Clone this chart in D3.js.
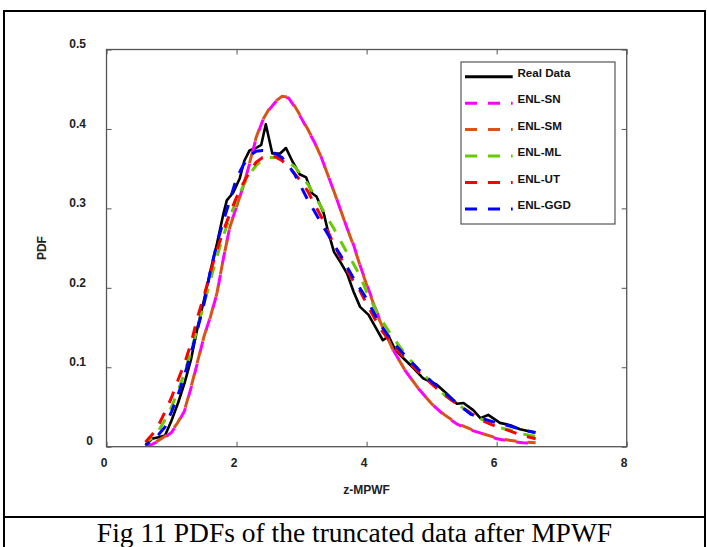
<!DOCTYPE html>
<html>
<head>
<meta charset="utf-8">
<script src="https://cdn.jsdelivr.net/npm/d3@7"></script>
<style>
  html, body { margin: 0; padding: 0; background: #fff; }
  svg { display: block; }
</style>
</head>
<body>
<svg id="chart" width="707" height="547"></svg>
<script>
// ---------- data ----------
const seriesNames = ["Real Data", "ENL-SN", "ENL-SM", "ENL-ML", "ENL-UT", "ENL-GGD"];
const xTicks = [0, 2, 4, 6, 8];
const yTicks = [0, 0.1, 0.2, 0.3, 0.4, 0.5];

const xReal = [0.6,0.7,0.8,0.9,1.0,1.1,1.2,1.3,1.4,1.5,1.6,1.7,1.8,1.85,1.95,2.05,2.12,2.2,2.3,2.38,2.45,2.55,2.67,2.76,2.86,2.97,3.07,3.16,3.23,3.34,3.41,3.5,3.6,3.7,3.8,3.9,4.03,4.16,4.25,4.34,4.44,4.57,4.72,4.87,5.08,5.23,5.39,5.49,5.64,5.75,5.87,6.05,6.21,6.36,6.58];
const yReal = [0.002,0.010,0.012,0.014,0.033,0.055,0.080,0.110,0.150,0.185,0.222,0.256,0.294,0.310,0.320,0.338,0.360,0.373,0.376,0.380,0.406,0.369,0.369,0.376,0.359,0.343,0.339,0.319,0.315,0.294,0.270,0.245,0.232,0.218,0.195,0.176,0.166,0.147,0.134,0.139,0.122,0.111,0.099,0.086,0.078,0.067,0.054,0.055,0.046,0.036,0.040,0.030,0.027,0.022,0.018];

const xFit = [0.6,0.7,0.8,0.9,1.0,1.1,1.2,1.3,1.4,1.5,1.6,1.7,1.8,1.9,2.0,2.1,2.2,2.3,2.4,2.5,2.6,2.7,2.8,2.9,3.0,3.1,3.2,3.3,3.4,3.5,3.6,3.7,3.8,3.9,4.0,4.2,4.4,4.6,4.8,5.0,5.2,5.4,5.6,5.8,6.0,6.2,6.4,6.6];
const ySN  = [0.000,0.003,0.007,0.012,0.018,0.030,0.045,0.074,0.106,0.139,0.164,0.193,0.238,0.278,0.302,0.327,0.356,0.388,0.410,0.424,0.434,0.440,0.439,0.427,0.413,0.398,0.383,0.365,0.343,0.321,0.298,0.275,0.254,0.228,0.205,0.160,0.123,0.095,0.073,0.054,0.039,0.028,0.021,0.016,0.010,0.007,0.005,0.004];
const ySM  = [0.000,0.003,0.008,0.013,0.019,0.031,0.046,0.075,0.107,0.139,0.164,0.194,0.238,0.277,0.302,0.327,0.357,0.389,0.411,0.425,0.435,0.441,0.440,0.428,0.414,0.399,0.383,0.365,0.343,0.321,0.298,0.275,0.253,0.228,0.204,0.159,0.123,0.095,0.073,0.054,0.040,0.029,0.022,0.016,0.011,0.008,0.006,0.005];
const yML  = [0.005,0.011,0.020,0.034,0.050,0.070,0.093,0.120,0.150,0.180,0.210,0.240,0.266,0.290,0.310,0.328,0.343,0.354,0.361,0.364,0.364,0.362,0.358,0.352,0.342,0.330,0.316,0.302,0.288,0.274,0.259,0.244,0.230,0.215,0.195,0.163,0.138,0.116,0.097,0.081,0.065,0.053,0.043,0.033,0.025,0.021,0.016,0.013];
const yUT  = [0.006,0.015,0.027,0.044,0.062,0.084,0.105,0.130,0.163,0.190,0.220,0.248,0.272,0.294,0.314,0.331,0.346,0.358,0.364,0.366,0.365,0.360,0.353,0.343,0.333,0.321,0.305,0.290,0.272,0.254,0.238,0.222,0.208,0.196,0.180,0.150,0.128,0.110,0.094,0.079,0.065,0.053,0.042,0.032,0.025,0.020,0.014,0.010];
const yGGD = [0.002,0.008,0.015,0.025,0.044,0.065,0.090,0.118,0.148,0.180,0.222,0.256,0.285,0.311,0.338,0.354,0.366,0.372,0.373,0.372,0.369,0.364,0.354,0.342,0.326,0.310,0.296,0.282,0.268,0.254,0.241,0.226,0.212,0.199,0.186,0.155,0.132,0.114,0.097,0.082,0.068,0.054,0.041,0.035,0.030,0.026,0.021,0.018];

// ---------- styles ----------
const colors = ["#000000", "#ff00ff", "#d95319", "#66cc00", "#ff0000", "#0000ff"];

const svg = d3.select("#chart");
const W = 707, H = 547;

// figure / table cell borders
const border = svg.append("g").attr("stroke", "#000").attr("stroke-width", 2).attr("fill", "none");
border.append("line").attr("x1", 4).attr("x2", 705).attr("y1", 11).attr("y2", 11);
border.append("line").attr("x1", 4).attr("x2", 705).attr("y1", 517).attr("y2", 517);
border.append("line").attr("x1", 4).attr("x2", 4).attr("y1", 10).attr("y2", H);
border.append("line").attr("x1", 705).attr("x2", 705).attr("y1", 10).attr("y2", H);

// plot area
const L = 106.5, R = 626.7, T = 49.5, B = 446.7;
const x = d3.scaleLinear().domain([0, 8]).range([L, R]);
const y = d3.scaleLinear().domain([0, 0.5]).range([B, T]);

const axisColor = "#555";
const tickFont = "bold 12px 'Liberation Sans', Arial, sans-serif";

// x axis bottom
const gx = svg.append("g").attr("transform", `translate(0,${B})`)
  .call(d3.axisBottom(x).tickValues(xTicks).tickSize(-5).tickPadding(0).tickFormat(d3.format("d")));
gx.select(".domain").remove();
gx.selectAll(".tick line").attr("stroke", axisColor);
gx.selectAll(".tick text").attr("fill", "#222").style("font", tickFont)
  .attr("dx", -3).attr("y", 16).attr("dy", "0.35em");

// x axis top ticks
const gxt = svg.append("g").attr("transform", `translate(0,${T})`)
  .call(d3.axisTop(x).tickValues(xTicks).tickSize(-5).tickFormat(""));
gxt.select(".domain").remove();
gxt.selectAll(".tick line").attr("stroke", axisColor);

// y axis left
const gy = svg.append("g").attr("transform", `translate(${L},0)`)
  .call(d3.axisLeft(y).tickValues(yTicks).tickSize(-5).tickFormat(d => d === 0 ? "0" : d3.format(".1f")(d)));
gy.select(".domain").remove();
gy.selectAll(".tick line").attr("stroke", axisColor);
gy.selectAll(".tick text").attr("fill", "#222").style("font", tickFont)
  .attr("x", d => d === 0 ? -13.5 : -20.5).attr("dy", "0.35em")
  .attr("transform", "translate(0,-6)");

// y axis right ticks
const gyr = svg.append("g").attr("transform", `translate(${R},0)`)
  .call(d3.axisRight(y).tickValues(yTicks).tickSize(-5).tickFormat(""));
gyr.select(".domain").remove();
gyr.selectAll(".tick line").attr("stroke", axisColor);

// clip
svg.append("defs").append("clipPath").attr("id", "clip")
  .append("rect").attr("x", L).attr("y", T).attr("width", R - L).attr("height", B - T);

// series
const fitSeries = [ySN, ySM, yML, yUT, yGGD];
const line = d3.line().x(d => x(d[0])).y(d => y(d[1]));
const plotG = svg.append("g").attr("clip-path", "url(#clip)");

plotG.append("path")
  .attr("d", line(xReal.map((v, i) => [v, yReal[i]])))
  .attr("fill", "none").attr("stroke", colors[0]).attr("stroke-width", 2.6)
  .attr("stroke-linejoin", "round");

const offsets = [0, 11, 4, 0, 7];
fitSeries.forEach((ys, k) => {
  plotG.append("path")
    .attr("d", line(xFit.map((v, i) => [v, ys[i]])))
    .attr("fill", "none").attr("stroke", colors[k + 1]).attr("stroke-width", 3)
    .attr("stroke-dasharray", "12,11").attr("stroke-dashoffset", offsets[k]);
});

// plot box
svg.append("rect").attr("x", L).attr("y", T).attr("width", R - L).attr("height", B - T)
  .attr("fill", "none").attr("stroke", axisColor).attr("stroke-width", 1.3);

// axis labels
svg.append("text").attr("x", (L + R) / 2).attr("y", 494).attr("text-anchor", "middle")
  .style("font", tickFont).attr("fill", "#222").text("z-MPWF");
svg.append("text").attr("transform", `translate(46,${(T + B) / 2}) rotate(-90)`)
  .attr("text-anchor", "middle").style("font", tickFont).attr("fill", "#222").text("PDF");

// legend
const lg = svg.append("g");
lg.append("rect").attr("x", 461).attr("y", 62).attr("width", 154).attr("height", 162)
  .attr("fill", "#fff").attr("stroke", "#555").attr("stroke-width", 1.2);
const legendY = d3.scalePoint().domain(seriesNames).range([76.7, 209]);
seriesNames.forEach((name, i) => {
  const yy = legendY(name);
  const ln = lg.append("line").attr("x1", 465).attr("x2", 512.7).attr("y1", yy).attr("y2", yy)
    .attr("stroke", colors[i]).attr("stroke-width", 3);
  if (i > 0) ln.attr("stroke-dasharray", "12,11");
  lg.append("text").attr("x", 517.5).attr("y", yy).attr("fill", "#111")
    .style("font", "bold 11.6px 'Liberation Sans', Arial, sans-serif").text(name);
});

// caption
svg.append("text").attr("x", 354.5).attr("y", 541.5).attr("text-anchor", "middle")
  .style("font", "27.5px 'Liberation Serif', 'Times New Roman', serif").attr("fill", "#000")
  .text("Fig 11 PDFs of the truncated data after MPWF");
</script>
</body>
</html>
